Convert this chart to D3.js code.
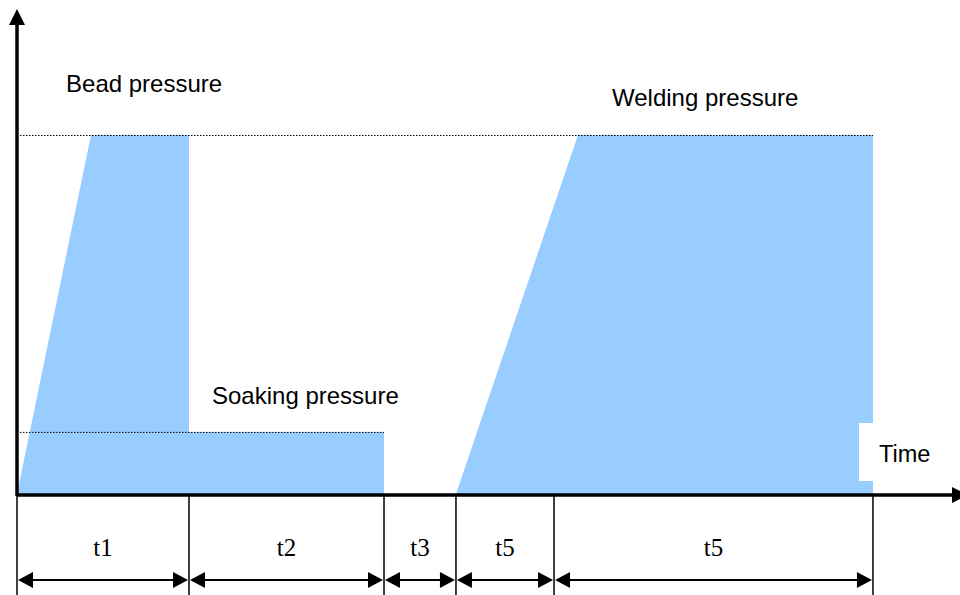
<!DOCTYPE html>
<html><head><meta charset="utf-8">
<script src="https://cdn.jsdelivr.net/npm/d3@7"></script>
<style>body{margin:0;background:#fff}svg{display:block}</style>
</head><body>
<script>
// Phase boundaries along the time axis (arbitrary time units)
const boundaries = [0, 18.24, 38.92, 46.55, 56.95, 90.77];
const phaseLabels = ["t1", "t2", "t3", "t5", "t5"];
// Pressure profile points [time, pressure]
const beadSoakProfile = [[0, 0], [7.85, 100], [18.24, 100], [18.24, 17.3], [38.92, 17.3], [38.92, 0]];
const weldProfile = [[46.55, 0], [59.49, 100], [90.77, 100], [90.77, 0]];
const highPressure = 100, soakPressure = 17.3;
const texts = [
  {t: "Bead pressure", x: 5.2, p: 112},
  {t: "Soaking pressure", x: 20.68, p: 25},
  {t: "Welding pressure", x: 63.1, p: 108.2},
];

const W = 960, H = 595;
const x = d3.scaleLinear().domain([0, 100]).range([17, 960]);
const y = d3.scaleLinear().domain([0, 100]).range([494, 135]);

const svg = d3.select("body").append("svg").attr("width", W).attr("height", H);
const blue = "#99ccff";
const line = d3.line().x(d => x(d[0])).y(d => y(d[1]));

svg.append("path").attr("d", line(beadSoakProfile) + "Z").attr("fill", blue);
svg.append("path").attr("d", line(weldProfile) + "Z").attr("fill", blue);

// dotted reference lines
svg.append("line").attr("x1", 20).attr("x2", x(boundaries[5])).attr("y1", y(highPressure)+0.5).attr("y2", y(highPressure)+0.5)
  .attr("stroke", "#000").attr("stroke-width", 1).attr("stroke-dasharray", "1.5,1.5");
svg.append("line").attr("x1", 20).attr("x2", x(boundaries[2])).attr("y1", y(soakPressure)+0.5).attr("y2", y(soakPressure)+0.5)
  .attr("stroke", "#000").attr("stroke-width", 1).attr("stroke-dasharray", "1.5,1.5");

const font = "'Liberation Sans', Arial, sans-serif";
texts.forEach(d => {
  svg.append("text").attr("x", x(d.x)).attr("y", y(d.p)).text(d.t)
    .attr("font-family", font).attr("font-size", 24).attr("fill", "#000");
});
// Time label with white box
svg.append("rect").attr("x", 859).attr("y", 423).attr("width", 90).attr("height", 58).attr("fill", "#fff");
svg.append("text").attr("x", 879).attr("y", 462).text("Time").attr("font-family", font).attr("font-size", 23.5);

// axes
const y0 = y(0);
svg.append("line").attr("x1", x(0)).attr("x2", 954).attr("y1", y0+1).attr("y2", y0+1).attr("stroke", "#000").attr("stroke-width", 3.5);
svg.append("path").attr("d", `M952,${y0-7}L968,${y0+1}L952,${y0+9}Z`).attr("fill", "#000");
svg.append("line").attr("x1", x(0)).attr("x2", x(0)).attr("y1", y0+2).attr("y2", 22).attr("stroke", "#000").attr("stroke-width", 3.5);
svg.append("path").attr("d", `M${x(0)-8},25L${x(0)},9L${x(0)+8},25Z`).attr("fill", "#000");

// tick lines
svg.selectAll(".tick").data(boundaries).enter().append("line")
  .attr("x1", d => x(d)).attr("x2", d => x(d)).attr("y1", y0).attr("y2", H)
  .attr("stroke", "#000").attr("stroke-width", 1.5);

// double arrows
const ay = 580;
for (let i = 0; i < phaseLabels.length; i++) {
  const a = x(boundaries[i]), b = x(boundaries[i+1]);
  svg.append("line").attr("x1", a+4).attr("x2", b-4).attr("y1", ay).attr("y2", ay).attr("stroke", "#000").attr("stroke-width", 2);
  svg.append("path").attr("d", `M${a+1},${ay}L${a+16},${ay-8}L${a+16},${ay+8}Z`).attr("fill", "#000");
  svg.append("path").attr("d", `M${b-1},${ay}L${b-16},${ay-8}L${b-16},${ay+8}Z`).attr("fill", "#000");
  svg.append("text").attr("x", (a+b)/2).attr("y", 556).attr("text-anchor", "middle")
    .attr("font-family", "'Liberation Serif', 'Times New Roman', serif").attr("font-size", 25).text(phaseLabels[i]);
}
</script>
</body></html>
